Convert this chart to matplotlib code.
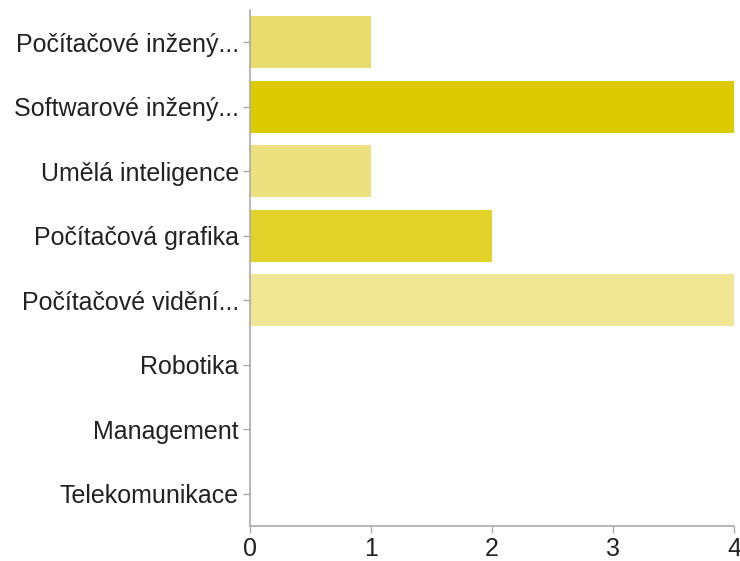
import matplotlib
matplotlib.use('Agg')
import matplotlib.pyplot as plt

categories = ['Počítačové inžený...',
              'Softwarové inžený...',
              'Umělá inteligence',
              'Počítačová grafika',
              'Počítačové vidění...',
              'Robotika',
              'Management',
              'Telekomunikace']
values = [1, 4, 1, 2, 4, 0, 0, 0]
colors = ['#e8dc6c', '#dccb00', '#ece07f', '#e0d228', '#f0e694',
          '#f0e694', '#f0e694', '#f0e694']
xticks = [0, 1, 2, 3, 4]

plt.rcParams['font.family'] = ['Liberation Sans', 'DejaVu Sans']

fig = plt.figure(figsize=(7.4, 5.61), dpi=100)
ax = fig.add_axes([0.3378, 0.0624, 0.6541, 0.9198])

pos = list(range(len(categories)))
ax.barh(pos, values, height=0.8, color=colors, edgecolor='none')

ax.set_xlim(0, 4)
ax.set_ylim(len(categories) - 0.5, -0.5)
ax.set_yticks(pos)
ax.set_yticklabels(categories, fontsize=18, color='#222222')
ax.set_xticks(xticks)
ax.set_xticklabels([str(v) for v in xticks], fontsize=18, color='#222222')

for s in ['top', 'right']:
    ax.spines[s].set_visible(False)
for s in ['left', 'bottom']:
    ax.spines[s].set_color('#aaaaaa')
    ax.spines[s].set_linewidth(1.2)
ax.tick_params(axis='both', color='#aaaaaa', length=5, width=1)
ax.tick_params(axis='y', pad=3)
ax.tick_params(axis='x', pad=3)

fig.savefig('out.png', dpi=100)
